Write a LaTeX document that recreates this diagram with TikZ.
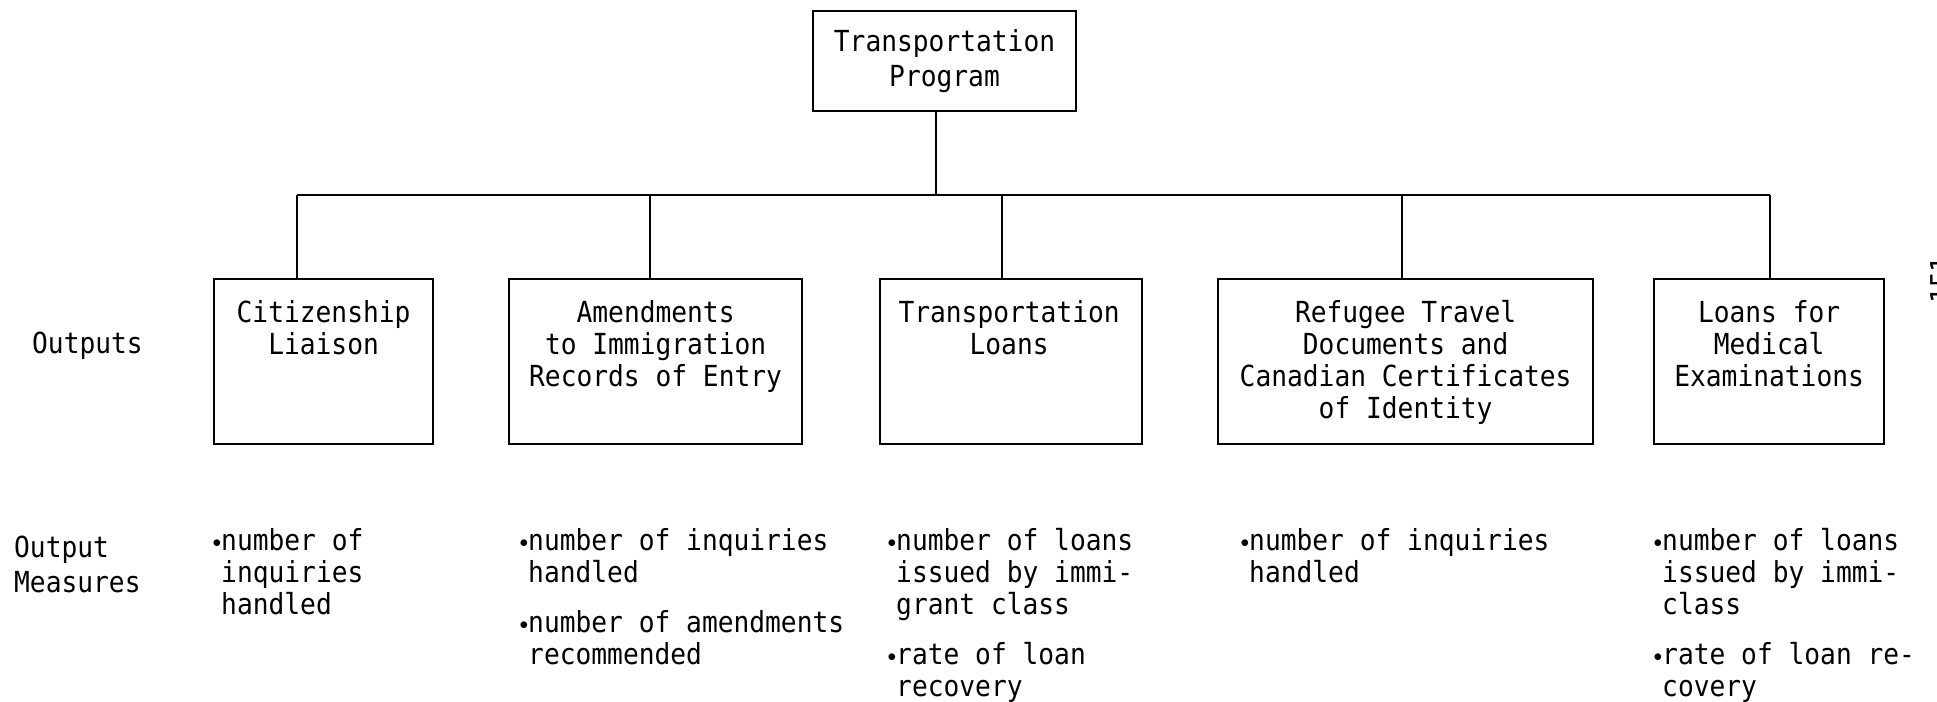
\documentclass[tikz,border=0pt]{standalone}
\usepackage{fontspec}
\newfontfamily\typewriter[FakeStretch=0.905]{DejaVu Sans Mono}
% small raised dot that hangs to the left of a measure line
\newcommand\dotitem{\llap{\raisebox{2.5pt}{\fontsize{17}{17}\selectfont$\bullet$}\kern0pt}}

\tikzset{
  rule/.style={line width=2.2pt},
  unitbox/.style={draw, line width=2.2pt, rectangle, inner sep=0pt, anchor=north west},
  boxtext/.style={font=\typewriter\fontsize{29}{32}\selectfont, align=center, anchor=north, inner sep=0pt},
  measure/.style={font=\typewriter\fontsize{29}{32}\selectfont, align=left, anchor=north west, inner sep=0pt},
  sidelabel/.style={font=\typewriter\fontsize{29}{35}\selectfont, align=left, inner sep=0pt}
}

\begin{document}
\begin{tikzpicture}[x=1pt,y=-1pt]
\useasboundingbox (0,0) rectangle (1937,701);

% program box
\node[draw, rule, rectangle, minimum width=263pt, minimum height=100pt, inner sep=0pt,
      font=\typewriter\fontsize{29}{35}\selectfont, align=center] (prog) at (944.5,61)
      {Transportation\\Program};

% output boxes
\node[unitbox, minimum width=219pt, minimum height=165pt] (cit) at (213,278) {};
\node[unitbox, minimum width=293pt, minimum height=165pt] (amd) at (508,278) {};
\node[unitbox, minimum width=262pt, minimum height=165pt] (tl)  at (879,278) {};
\node[unitbox, minimum width=375pt, minimum height=165pt] (ref) at (1217,278) {};
\node[unitbox, minimum width=230pt, minimum height=165pt] (lme) at (1653,278) {};

\node[boxtext] (citT) at ([yshift=-22pt]cit.north) {Citizenship\\Liaison};
\node[boxtext] (amdT) at ([yshift=-22pt]amd.north) {Amendments\\to Immigration\\Records of Entry};
\node[boxtext] (tlT)  at ([yshift=-22pt,xshift=-2pt]tl.north) {Transportation\\Loans};
\node[boxtext] (refT) at ([yshift=-22pt]ref.north) {Refugee Travel\\Documents and\\Canadian Certificates\\of Identity};
\node[boxtext] (lmeT) at ([yshift=-22pt]lme.north) {Loans for\\Medical\\Examinations};

% connectors
\coordinate (hub) at (936,195);
\coordinate (d1) at (297,195);
\coordinate (d2) at (650,195);
\coordinate (d3) at (1002,195);
\coordinate (d4) at (1402,195);
\coordinate (d5) at (1770,195);
\draw[rule] (hub |- prog.south) -- (hub);
\draw[rule] (d1) -- (d5);
\draw[rule] (d1) -- (d1 |- cit.north);
\draw[rule] (d2) -- (d2 |- amd.north);
\draw[rule] (d3) -- (d3 |- tl.north);
\draw[rule] (d4) -- (d4 |- ref.north);
\draw[rule] (d5) -- (d5 |- lme.north);

% row labels
\node[sidelabel, anchor=base west] (outputs) at (32,353) {Outputs};
\node[sidelabel, anchor=north west] (measures) at (14,536) {Output\\Measures};

% output measures
\node[measure] (m1) at (221,528) {\dotitem number of\\inquiries\\handled};
\node[measure] (m2) at (528,528) {\dotitem number of inquiries\\handled\\[18pt]\dotitem number of amendments\\recommended};
\node[measure] (m3) at (896,528) {\dotitem number of loans\\issued by immi-\\grant class\\[18pt]\dotitem rate of loan\\recovery};
\node[measure] (m4) at (1249,528) {\dotitem number of inquiries\\handled};
\node[measure] (m5) at (1662,528) {\dotitem number of loans\\issued by immi-\\class\\[18pt]\dotitem rate of loan re-\\covery};

% page number along the right edge
\node[rotate=90, anchor=north, inner sep=0pt, font=\typewriter\fontsize{29}{32}\selectfont] (page) at (1930,280) {-151-};
\end{tikzpicture}
\end{document}
